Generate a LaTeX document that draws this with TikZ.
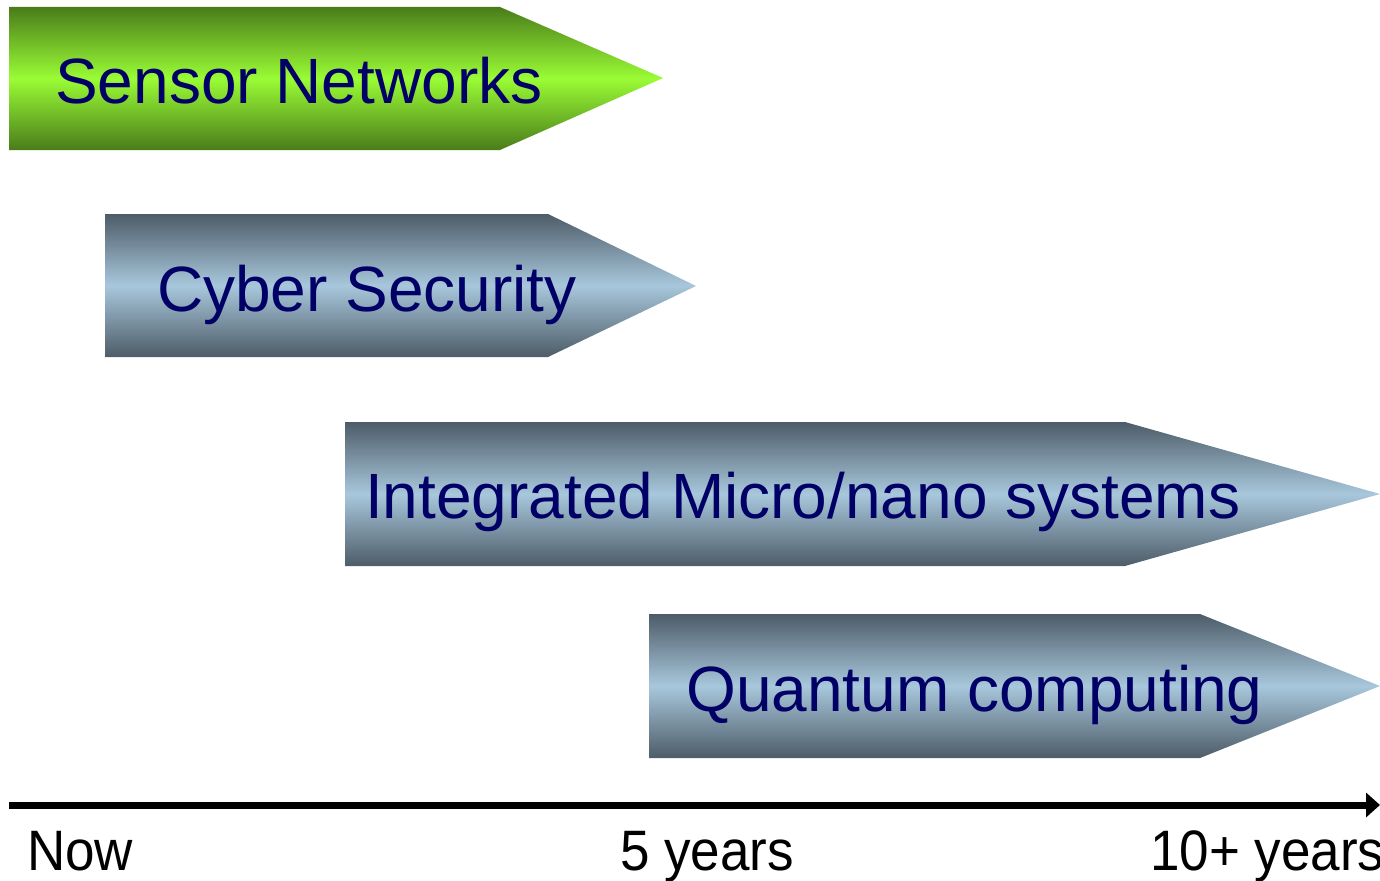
\documentclass[tikz,border=0pt]{standalone}
\usepackage{fontspec}
\setmainfont{Liberation Sans}
\usetikzlibrary{arrows.meta}
\definecolor{navytext}{RGB}{0,0,102}
\definecolor{greendark}{RGB}{74,124,26}
\definecolor{greenlight}{RGB}{154,252,53}
\definecolor{slatedark}{RGB}{77,92,104}
\definecolor{slatelight}{RGB}{168,199,220}
\tikzset{
  % the middle colour has to come last, after top and bottom
  greenbar/.style={top color=greendark, bottom color=greendark, middle color=greenlight},
  slatebar/.style={top color=slatedark, bottom color=slatedark, middle color=slatelight},
  bartext/.style={anchor=base west, inner sep=0pt, text=navytext, font=\fontsize{64}{70}\selectfont},
  axistext/.style={anchor=base west, inner sep=0pt, text=black, xscale=0.93, font=\fontsize{57}{62}\selectfont},
}
\begin{document}
\begin{tikzpicture}[x=1pt, y=-1pt]
  \useasboundingbox (0,0) rectangle (1380,880);

  % timeline bars
  \shade[greenbar] (9,7) -- (500,7) -- (663,78) -- (500,150) -- (9,150) -- cycle;
  \shade[slatebar] (105,214) -- (548,214) -- (696,286) -- (548,357) -- (105,357) -- cycle;
  \shade[slatebar] (345,422) -- (1125,422) -- (1380,494) -- (1125,566) -- (345,566) -- cycle;
  \shade[slatebar] (649,614) -- (1200,614) -- (1380,686) -- (1200,758) -- (649,758) -- cycle;

  \node[bartext] (sensor)  at (55,103)  {Sensor Networks};
  \node[bartext] (cyber)   at (157,311) {Cyber Security};
  \node[bartext] (micro)   at (365,518) {Integrated Micro/nano systems};
  \node[bartext] (quantum) at (686,711) {Quantum computing};

  % time axis
  \coordinate (axisstart) at (9,805);
  \coordinate (axisend) at (1380,805);
  \draw[line width=7pt, -{Triangle[length=14pt,width=24pt]}] (axisstart) -- (axisend);

  \node[axistext] (now)   at (27,870)   {Now};
  \node[axistext] (five)  at (620,870)  {5 years};
  \node[axistext] (ten)   at (1150,870) {10+ years};
\end{tikzpicture}
\end{document}
